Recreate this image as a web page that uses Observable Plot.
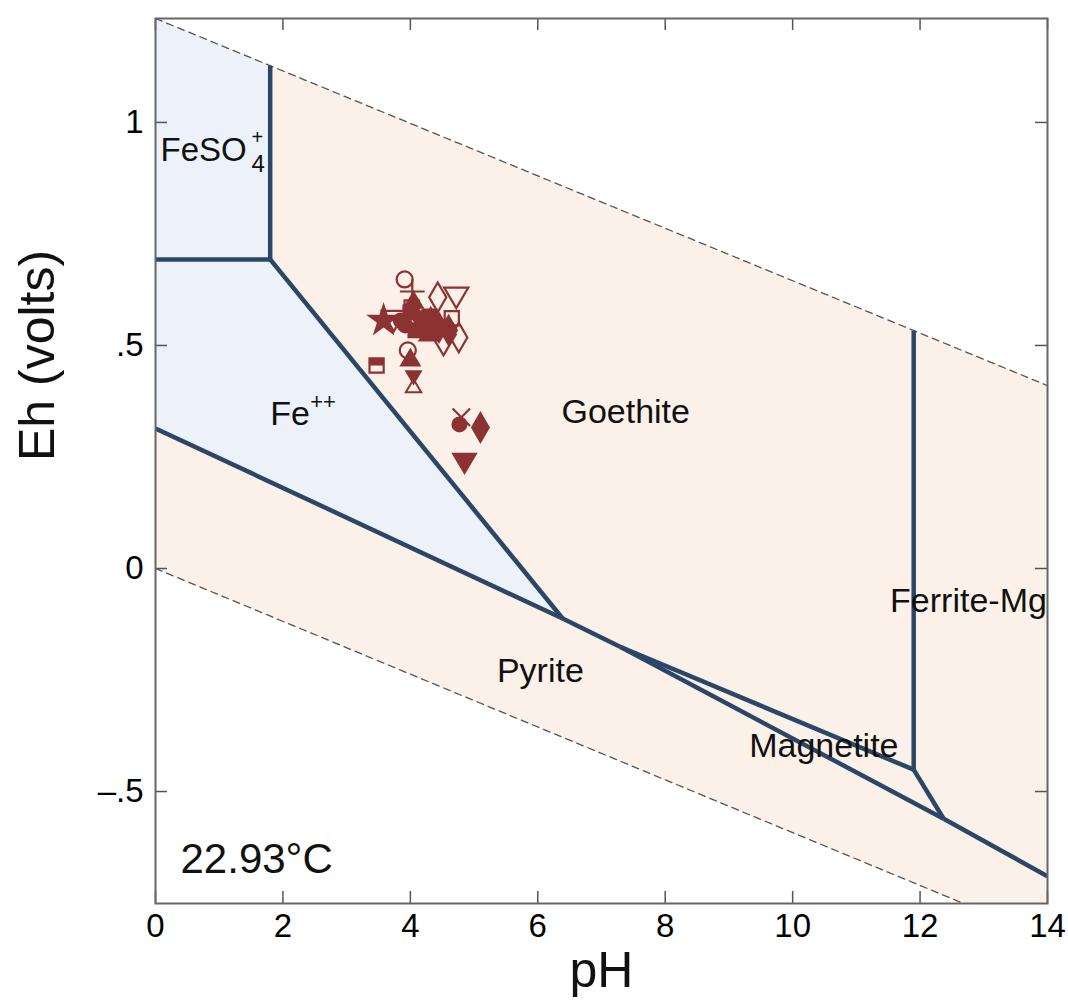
<!DOCTYPE html>
<html>
<head>
<meta charset="utf-8">
<script src="https://cdn.jsdelivr.net/npm/d3@7"></script>
<script src="https://cdn.jsdelivr.net/npm/@observablehq/plot@0.6"></script>
<style>
  html, body { margin: 0; padding: 0; background: #fff; }
  #chart svg { display: block; }
</style>
</head>
<body>
<div id="chart"></div>
<script>
// ---------- Data ----------
const xTicks = [0, 2, 4, 6, 8, 10, 12, 14];
const yTicks = [-0.5, 0, 0.5, 1];
const yTickLabels = ["\u2013.5", "0", ".5", "1"];

// water stability limits (pH, Eh)
const waterUpper = [[0, 1.233], [14, 0.41]];
const waterLower = [[0, 0], [14, -0.829]];

// field boundaries (pH, Eh)
const bFeSO4Goethite   = [[1.8, 1.127], [1.8, 0.693]];
const bFeSO4Fe         = [[0, 0.693], [1.8, 0.693]];
const bFeGoethite      = [[1.8, 0.693], [6.39, -0.112]];
const bFePyrite        = [[0, 0.314], [6.39, -0.112]];
const bGoethitePyrite  = [[6.39, -0.112], [7.3, -0.176]];
const bGoethiteMagnet  = [[7.3, -0.176], [11.9, -0.451]];
const bGoethiteFerrite = [[11.9, 0.533], [11.9, -0.451]];
const bMagnetFerrite   = [[11.9, -0.451], [12.37, -0.561]];
const bPyriteMagnet    = [[7.3, -0.176], [12.37, -0.561]];
const bPyriteFerrite   = [[12.37, -0.561], [14, -0.69]];

// stability fields (polygons)
const fieldFeSO4     = [[0, 1.233], [1.8, 1.127], [1.8, 0.693], [0, 0.693]];
const fieldFe        = [[0, 0.693], [1.8, 0.693], [6.39, -0.112], [0, 0.314]];
const fieldGoethite  = [[1.8, 1.127], [11.9, 0.533], [11.9, -0.451], [7.3, -0.176], [6.39, -0.112], [1.8, 0.693]];
const fieldFerrite   = [[11.9, 0.533], [14, 0.41], [14, -0.69], [12.37, -0.561], [11.9, -0.451]];
const fieldMagnetite = [[7.3, -0.176], [11.9, -0.451], [12.37, -0.561]];
const fieldPyrite    = [[0, 0.314], [6.39, -0.112], [7.3, -0.176], [12.37, -0.561], [14, -0.69], [14, -0.829], [0, 0]];

// field labels
const labelNames = ["Goethite", "Pyrite", "Magnetite", "Ferrite-Mg"];
const labelPH    = [7.38, 6.04, 10.49, 12.76];
const labelEh    = [0.35, -0.229, -0.399, -0.072];

// sample points
const ptKind = ["circleOpen","circleOpen","plus","diamondOpen","diamondOpen","triDownOpen","triDownOpen","triDownOpen",
  "star","squareFilled","squareFilled","squareFilled","circleFilled","circleFilled","circleFilled","circleFilled","circleFilled",
  "diamondFilled","diamondFilled","diamondFilled","diamondFilled","triUpFilled","triUpFilled","triUpFilled",
  "squareOpen","squareOpen","squareHalf","hourglass","times","triDownFilled"];
const ptPH = [3.91, 3.96, 4.03, 4.43, 4.76, 4.72, 4.52, 3.74,
  3.58, 4.00, 4.08, 4.30, 4.16, 3.92, 3.85, 4.77, 4.20,
  4.32, 4.60, 5.10, 4.45, 4.29, 4.00, 4.05,
  4.65, 4.02, 3.47, 4.05, 4.80, 4.85];
const ptEh = [0.648, 0.489, 0.621, 0.608, 0.518, 0.610, 0.504, 0.558,
  0.556, 0.574, 0.534, 0.565, 0.561, 0.545, 0.556, 0.323, 0.540,
  0.552, 0.534, 0.316, 0.540, 0.527, 0.471, 0.600,
  0.561, 0.585, 0.455, 0.419, 0.339, 0.238];

const tempLabel = "22.93\u00B0C";

// ---------- Build tables ----------
const toRows = (arr, id) => arr.map(([pH, Eh]) => ({pH, Eh, id}));
const waterRows = [...toRows(waterUpper, "up"), ...toRows(waterLower, "lo")];
const boundaryRows = [
  ...toRows(bFeSO4Goethite, 1), ...toRows(bFeSO4Fe, 2), ...toRows(bFeGoethite, 3),
  ...toRows(bFePyrite, 4), ...toRows(bGoethitePyrite, 5), ...toRows(bGoethiteMagnet, 6),
  ...toRows(bGoethiteFerrite, 7), ...toRows(bMagnetFerrite, 8), ...toRows(bPyriteMagnet, 9),
  ...toRows(bPyriteFerrite, 10)
];
const aqRows = [...toRows(fieldFeSO4, "feso4"), ...toRows(fieldFe, "fe")];
const minRows = [...toRows(fieldGoethite, "g"), ...toRows(fieldFerrite, "f"),
  ...toRows(fieldMagnetite, "m"), ...toRows(fieldPyrite, "p")];
const labels = labelNames.map((t, i) => ({t, pH: labelPH[i], Eh: labelEh[i]}));
const pts = ptKind.map((k, i) => ({k, pH: ptPH[i], Eh: ptEh[i]}));

// ---------- Style ----------
const RED = "#8c3232";
const LINE = "#2b4768";
const BLUE = "#edf1f9";
const PEACH = "#fcf1e9";
const innerW = 1068 - 155 - 21;
const innerH = 1007 - 18 - 104;

const triDown = {draw(ctx, size) {
  const s = Math.sqrt(size);
  ctx.moveTo(-0.62 * s, -0.45 * s); ctx.lineTo(0.62 * s, -0.45 * s); ctx.lineTo(0, 0.6 * s); ctx.closePath();
}};
const triUp = {draw(ctx, size) {
  const s = Math.sqrt(size);
  ctx.moveTo(-0.62 * s, 0.45 * s); ctx.lineTo(0.62 * s, 0.45 * s); ctx.lineTo(0, -0.6 * s); ctx.closePath();
}};
const halfTop = {draw(ctx, size) {
  const s = Math.sqrt(size) / 2;
  ctx.moveTo(-s, -s); ctx.lineTo(s, -s); ctx.lineTo(s, 0); ctx.lineTo(-s, 0); ctx.closePath();
}};

const of = k => pts.filter(d => d.k === k);
const dotOpts = {x: "pH", y: "Eh"};
const pointMarks = [
  Plot.dot(of("circleOpen"), {...dotOpts, symbol: "circle", r: 8, stroke: RED, strokeWidth: 2.2, fill: "none"}),
  Plot.dot(of("plus"), {...dotOpts, symbol: "plus", r: 8, stroke: RED, strokeWidth: 2.2}),
  Plot.dot(of("diamondOpen"), {...dotOpts, symbol: "diamond", r: 9, stroke: RED, strokeWidth: 2.2, fill: "none"}),
  Plot.dot(of("triDownOpen"), {...dotOpts, symbol: triDown, r: 11, stroke: RED, strokeWidth: 2.2, fill: "none"}),
  Plot.dot(of("star"), {...dotOpts, symbol: "star", r: 11, fill: RED, stroke: "none"}),
  Plot.dot(of("squareFilled"), {...dotOpts, symbol: "square", r: 9, fill: RED, stroke: "none"}),
  Plot.dot(of("circleFilled"), {...dotOpts, symbol: "circle", r: 8, fill: RED, stroke: "none"}),
  Plot.dot(of("diamondFilled"), {...dotOpts, symbol: "diamond", r: 10, fill: RED, stroke: "none"}),
  Plot.dot(of("triUpFilled"), {...dotOpts, symbol: triUp, r: 10, fill: RED, stroke: "none"}),
  Plot.dot(of("squareOpen"), {...dotOpts, symbol: "square", r: 8, stroke: RED, strokeWidth: 2.2, fill: "none"}),
  Plot.dot(of("squareHalf"), {...dotOpts, symbol: halfTop, r: 8, fill: RED, stroke: "none"}),
  Plot.dot(of("squareHalf"), {...dotOpts, symbol: "square", r: 8, stroke: RED, strokeWidth: 2.2, fill: "none"}),
  Plot.dot(of("hourglass"), {...dotOpts, symbol: triDown, r: 7, dy: -5, fill: RED, stroke: RED, strokeWidth: 1.5}),
  Plot.dot(of("hourglass"), {...dotOpts, symbol: triUp, r: 7, dy: 5, fill: "none", stroke: RED, strokeWidth: 2}),
  Plot.dot(of("times"), {...dotOpts, symbol: "times", r: 8, stroke: RED, strokeWidth: 2.2}),
  Plot.dot(of("triDownFilled"), {...dotOpts, symbol: triDown, r: 12, fill: RED, stroke: "none"})
];

const anchorFeSO4 = [{pH: 0.08, Eh: 0.937}];
const anchorFe = [{pH: 1.8, Eh: 0.347}];

const chart = Plot.plot({
  width: 1068,
  height: 1007,
  marginTop: 18,
  marginRight: 21,
  marginBottom: 104,
  marginLeft: 155,
  x: {domain: [0, 14]},
  y: {domain: [-0.751, 1.233]},
  style: {fontFamily: "'Liberation Sans', Arial, sans-serif", fontSize: "33px", color: "#000", background: "#fff"},
  marks: [
    Plot.line(minRows, {x: "pH", y: "Eh", z: "id", fill: PEACH, stroke: PEACH, strokeWidth: 0.8, clip: true}),
    Plot.line(aqRows, {x: "pH", y: "Eh", z: "id", fill: BLUE, stroke: BLUE, strokeWidth: 0.8, clip: true}),
    Plot.line(waterRows, {x: "pH", y: "Eh", z: "id", stroke: "#555", strokeWidth: 1.3, strokeDasharray: "7,5", clip: true}),
    Plot.line(boundaryRows, {x: "pH", y: "Eh", z: "id", stroke: LINE, strokeWidth: 4.5, strokeLinecap: "butt", clip: true}),
    // field labels
    Plot.text(labels, {x: "pH", y: "Eh", text: "t", fontSize: 34, fill: "#111"}),
    Plot.text(anchorFeSO4, {x: "pH", y: "Eh", text: () => "FeSO", textAnchor: "start", fontSize: 33, fill: "#111"}),
    Plot.text(anchorFeSO4, {x: "pH", y: "Eh", text: () => "4", textAnchor: "start", dx: 91, dy: 14, fontSize: 24, fill: "#111"}),
    Plot.text(anchorFeSO4, {x: "pH", y: "Eh", text: () => "+", textAnchor: "start", dx: 91, dy: -13, fontSize: 20, fill: "#111"}),
    Plot.text(anchorFe, {x: "pH", y: "Eh", text: () => "Fe", textAnchor: "start", fontSize: 34, fill: "#111"}),
    Plot.text(anchorFe, {x: "pH", y: "Eh", text: () => "++", textAnchor: "start", dx: 40, dy: -12, fontSize: 22, fill: "#111"}),
    Plot.text([tempLabel], {frameAnchor: "bottom-left", text: d => d, textAnchor: "start", dx: 25, dy: -31, fontSize: 42, fill: "#111"}),
    ...pointMarks,
    // inward ticks
    Plot.tickX(xTicks, {x: d => d, insetTop: innerH - 12, stroke: "#555", strokeWidth: 1.5}),
    Plot.tickX(xTicks, {x: d => d, insetBottom: innerH - 12, stroke: "#555", strokeWidth: 1.5}),
    Plot.tickY(yTicks, {y: d => d, insetRight: innerW - 12, stroke: "#555", strokeWidth: 1.5}),
    Plot.tickY(yTicks, {y: d => d, insetLeft: innerW - 12, stroke: "#555", strokeWidth: 1.5}),
    Plot.frame({stroke: "#666", strokeWidth: 2}),
    Plot.axisX(xTicks, {tickSize: 0, tickPadding: 10, label: null, fontSize: 33}),
    Plot.axisY(yTicks, {tickSize: 0, tickPadding: 12, label: null, fontSize: 33,
      tickFormat: d => yTickLabels[yTicks.indexOf(d)]}),
    Plot.text(["Eh (volts)"], {frameAnchor: "left", text: d => d, dx: -118, rotate: -90, fontSize: 50, fill: "#111"}),
    Plot.text(["pH"], {frameAnchor: "bottom", text: d => d, dy: 83, fontSize: 50, fill: "#111"})
  ]
});
document.getElementById("chart").appendChild(chart);
</script>
</body>
</html>
